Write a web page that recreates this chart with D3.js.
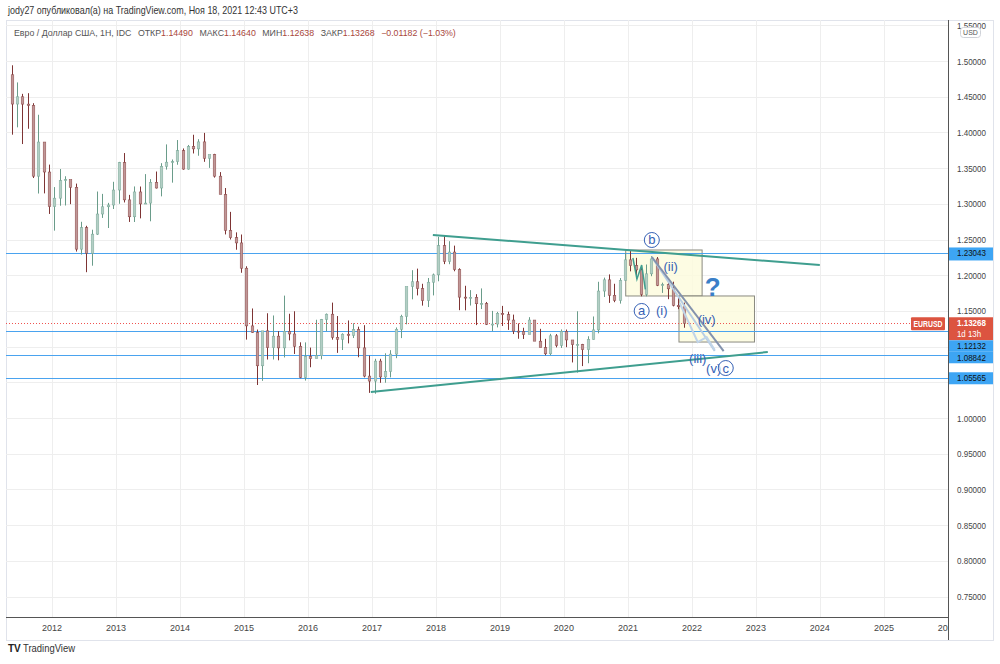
<!DOCTYPE html>
<html><head><meta charset="utf-8">
<script src="https://cdn.jsdelivr.net/npm/d3@7"></script>
<style>body{margin:0;background:#fff}svg{display:block}text{font-family:"Liberation Sans",Arial,sans-serif}</style>
</head><body><svg id="c" width="1000" height="664"></svg>
<script>
// ---- data (monthly candles, EUR/USD, from May 2011) ----
const firstMonth = [2011, 4];
const firstOpen = 1.4807;
const highs = [
 1.4940,1.4700,1.4540,1.4549,1.4409,1.4247,1.3817,1.3549,
 1.3234,1.3487,1.3386,1.3283,1.3283,1.2748,1.2692,1.2637,1.3172,1.3139,1.3013,1.3308,
 1.3587,1.3711,1.3125,1.3243,1.3242,1.3416,1.3346,1.3452,1.3569,1.3832,1.3621,1.3893,
 1.3775,1.3824,1.3967,1.3905,1.3993,1.3677,1.3700,1.3444,1.3221,1.2887,1.2600,1.2570,
 1.2125,1.1534,1.1239,1.1214,1.1467,1.1436,1.1216,1.1714,1.1460,1.1495,1.1060,1.1059,
 1.0986,1.1376,1.1387,1.1464,1.1616,1.1428,1.1186,1.1366,1.1327,1.1279,1.1300,1.0874,
 1.0829,1.0829,1.0906,1.0950,1.1268,1.1446,1.1777,1.2070,1.2092,1.1880,1.1961,1.2023,
 1.2537,1.2556,1.2476,1.2414,1.2097,1.1852,1.1791,1.1734,1.1815,1.1625,1.1500,1.1486,
 1.1570,1.1489,1.1448,1.1324,1.1264,1.1412,1.1286,1.1249,1.1109,1.1179,1.1175,1.1240,
 1.1239,1.1054,1.1495,1.1038,1.1145,1.1422,1.1908,1.1966,1.2011,1.1880,1.1960,1.2310,
 1.2349,1.2243,1.2113,1.2150,1.2266,1.2254,1.1895,1.1902,1.1909,1.1692,1.1616];
const lows = [
 1.3968,1.4071,1.3837,1.4051,1.3361,1.3144,1.3146,1.2858,
 1.2624,1.2973,1.2976,1.2995,1.2331,1.2288,1.2042,1.2133,1.2564,1.2802,1.2661,1.2927,
 1.3000,1.3019,1.2746,1.2745,1.2796,1.2997,1.2755,1.3214,1.3104,1.3479,1.3296,1.3547,
 1.3477,1.3478,1.3705,1.3673,1.3588,1.3503,1.3367,1.3150,1.2571,1.2500,1.2357,1.2034,
 1.1098,1.1191,1.0462,1.0520,1.0819,1.0819,1.0808,1.0848,1.1087,1.0897,1.0557,1.0524,
 1.0711,1.0855,1.0822,1.1216,1.1097,1.0912,1.0952,1.1045,1.1120,1.0851,1.0569,1.0352,
 1.0340,1.0493,1.0494,1.0569,1.0838,1.1119,1.1312,1.1662,1.1717,1.1574,1.1554,1.1717,
 1.1915,1.2155,1.2154,1.2055,1.1510,1.1508,1.1575,1.1301,1.1526,1.1302,1.1216,1.1269,
 1.1289,1.1234,1.1176,1.1110,1.1107,1.1181,1.1101,1.1026,1.0879,1.0879,1.0989,1.0981,
 1.0992,1.0778,1.0636,1.0727,1.0767,1.1098,1.1186,1.1695,1.1612,1.1622,1.1602,1.1925,
 1.2054,1.1952,1.1704,1.1704,1.1986,1.1847,1.1752,1.1664,1.1563,1.1524,1.1264];
const closes = [
 1.4397,1.4499,1.4396,1.4378,1.3387,1.3865,1.3445,1.2961,
 1.3079,1.3326,1.3339,1.3231,1.2365,1.2665,1.2307,1.2575,1.2857,1.2958,1.2983,1.3193,
 1.3578,1.3055,1.2818,1.3166,1.2998,1.3010,1.3301,1.3221,1.3525,1.3583,1.3591,1.3743,
 1.3486,1.3804,1.3769,1.3867,1.3638,1.3692,1.3387,1.3131,1.2628,1.2525,1.2452,1.2098,
 1.1290,1.1197,1.0731,1.1221,1.0985,1.1146,1.0982,1.1213,1.1177,1.1005,1.0567,1.0862,
 1.0831,1.0872,1.1380,1.1454,1.1130,1.1103,1.1174,1.1157,1.1240,1.0982,1.0587,1.0517,
 1.0797,1.0575,1.0652,1.0895,1.1243,1.1424,1.1842,1.1908,1.1813,1.1644,1.1902,1.2005,
 1.2414,1.2194,1.2324,1.2079,1.1693,1.1684,1.1690,1.1600,1.1604,1.1312,1.1316,1.1467,
 1.1448,1.1372,1.1217,1.1214,1.1168,1.1372,1.1076,1.0986,1.0899,1.1151,1.1016,1.1213,
 1.1093,1.1027,1.1031,1.0956,1.1101,1.1234,1.1778,1.1935,1.1719,1.1646,1.1928,1.2215,
 1.2136,1.2074,1.1730,1.2019,1.2228,1.1858,1.1868,1.1809,1.1579,1.1558,1.13268];

const priceTicks = [0.75,0.80,0.85,0.90,0.95,1.00,1.05,1.10,1.15,1.20,1.25,1.30,1.35,1.40,1.45,1.50,1.55];
const yearTicks = [2012,2013,2014,2015,2016,2017,2018,2019,2020,2021,2022,2023,2024,2025,2026];
const levelLines = [1.23043, 1.12132, 1.08842, 1.05565];
const lastPrice = 1.13268;
const lastCountdown = "1d 13h";
const symbol = "EURUSD";

const trendLines = [
  [["2017-12-14",1.2563],["2024-01-01",1.2143]],
  [["2016-12-25",1.0364],["2023-03-10",1.0924]]
];
const boxes = [
  [["2020-12-19",1.2353],["2022-02-28",1.1709]],
  [["2021-10-19",1.1709],["2022-12-24",1.1064]]
];
const fanDark = [["2021-05-17",1.2255],["2022-07-01",1.0938]];
const fanLight = [["2021-05-17",1.2255],["2022-05-11",1.0938]];
const zigLight = [["2021-10-23",1.1611],["2022-02-03",1.1064],["2022-03-26",1.1134],["2022-05-11",1.0952]];
const zigTeal = [["2021-01-29",1.2241],["2021-02-21",1.1947],["2021-03-20",1.2143],["2021-04-10",1.1800]];
const waveLabels = [
  {t:"b", d:"2021-05-17", p:1.2493, circle:true},
  {t:"a", d:"2021-03-20", p:1.1499, circle:true},
  {t:"(i)", d:"2021-07-13", p:1.1499},
  {t:"(ii)", d:"2021-09-02", p:1.2115},
  {t:"(iv)", d:"2022-03-26", p:1.1373},
  {t:"(iii)", d:"2022-02-03", p:1.0840},
  {t:"(v)", d:"2022-05-05", p:1.0700},
  {t:"c", d:"2022-07-13", p:1.0700, circle:true}
];
const questionMark = {t:"?", d:"2022-04-30", p:1.1835};
const legendName = "Евро / Доллар США, 1H, IDC";
const legendFields = [["ОТКР","1.14490"],["МАКС","1.14640"],["МИН","1.12638"],["ЗАКР","1.13268"],["","−0.01182 (−1.03%)"]];

// ---- scales ----
const svg = d3.select("#c");
const L = 6, R = 948, T = 20, B = 617;
const x = d3.scaleTime().domain([new Date(2012,0,1), new Date(2021,0,1)]).range([52,628]);
const y = d3.scaleLinear().domain([1.0,1.5]).range([418,61]);
const pd = d3.timeParse("%Y-%m-%d");
const X = d => x(pd(d)), P = ([d,p]) => [X(d), y(p)];

svg.append("rect").attr("width",1000).attr("height",664).attr("fill","#fff");
const defs = svg.append("defs");
defs.append("clipPath").attr("id","plot").append("rect")
  .attr("x",L).attr("y",T).attr("width",R-L).attr("height",B-T);
defs.append("clipPath").attr("id","taxis").append("rect")
  .attr("x",L).attr("y",B).attr("width",R-L).attr("height",24);
defs.append("clipPath").attr("id","paxis").append("rect")
  .attr("x",R).attr("y",T+1).attr("width",46).attr("height",B-T);

// frame
svg.append("rect").attr("x",L+0.5).attr("y",T+0.5).attr("width",993-L).attr("height",640-T)
  .attr("fill","none").attr("stroke","#e0e3eb");

const plot = svg.append("g").attr("clip-path","url(#plot)");
// grid
plot.selectAll(".hg").data(priceTicks).join("line")
  .attr("x1",L).attr("x2",R).attr("y1",d=>Math.round(y(d))+0.5).attr("y2",d=>Math.round(y(d))+0.5)
  .attr("stroke","#eeeeee");
plot.selectAll(".vg").data(yearTicks).join("line")
  .attr("y1",T).attr("y2",B).attr("x1",d=>Math.round(x(new Date(d,0,1)))+0.5).attr("x2",d=>Math.round(x(new Date(d,0,1)))+0.5)
  .attr("stroke","#eeeeee");

// boxes
boxes.forEach(b=>{
  const [x1,y1] = P(b[0]), [x2,y2] = P(b[1]);
  plot.append("rect").attr("x",x1).attr("y",y1).attr("width",x2-x1).attr("height",y2-y1)
    .attr("fill","#fdfbdc").attr("fill-opacity",0.8).attr("stroke","#8a8a80").attr("stroke-width",1);
});

// level lines
plot.selectAll(".lv").data(levelLines).join("line")
  .attr("x1",L).attr("x2",R).attr("y1",d=>Math.round(y(d))+0.5).attr("y2",d=>Math.round(y(d))+0.5)
  .attr("stroke","#4aa3ef").attr("stroke-width",1);

// current price dotted line
plot.append("line").attr("x1",L).attr("x2",911).attr("y1",Math.round(y(lastPrice))+0.5).attr("y2",Math.round(y(lastPrice))+0.5)
  .attr("stroke","#ef5350").attr("stroke-dasharray","1,2");

// candles
const candles = highs.map((h,i)=>({
  date: new Date(firstMonth[0], firstMonth[1]+i, 15),
  o: i===0 ? firstOpen : closes[i-1], h, l: lows[i], c: closes[i]
}));
const cg = plot.append("g");
candles.forEach(k=>{
  const cx = Math.round(x(k.date))+0.5;
  const up = k.c >= k.o;
  cg.append("line").attr("x1",cx).attr("x2",cx).attr("y1",y(k.h)).attr("y2",y(k.l))
    .attr("stroke", up ? "#6a9c8a" : "#7e3434").attr("stroke-width",1);
  const top = y(Math.max(k.o,k.c)), bot = y(Math.min(k.o,k.c));
  cg.append("rect").attr("x",cx-1.3).attr("width",2.6).attr("y",top).attr("height",Math.max(1,bot-top))
    .attr("fill", up ? "#b3cec5" : "#c09797").attr("stroke", up ? "#7aa898" : "#8a4545").attr("stroke-width",0.5);
});

const line = d3.line();
// trend lines
trendLines.forEach(t=>{
  plot.append("path").attr("d",line(t.map(P))).attr("stroke","#3f9e8f").attr("stroke-width",2).attr("fill","none");
});
plot.append("path").attr("d",line(zigTeal.map(P))).attr("stroke","#3f9e8f").attr("stroke-width",1.5).attr("fill","none");
plot.append("path").attr("d",line(fanLight.map(P))).attr("stroke","#b7cde4").attr("stroke-width",2).attr("fill","none");
plot.append("path").attr("d",line(zigLight.map(P))).attr("stroke","#c0d4e8").attr("stroke-width",2).attr("fill","none");
plot.append("path").attr("d",line(fanDark.map(P))).attr("stroke","#8392ad").attr("stroke-width",2).attr("fill","none");

// wave labels
const lblColor = "#3561b5";
waveLabels.forEach(w=>{
  const cx = X(w.d), cy = y(w.p);
  if (w.circle) plot.append("circle").attr("cx",cx).attr("cy",cy).attr("r",7.5)
    .attr("fill","#fff").attr("fill-opacity",0.6).attr("stroke",lblColor).attr("stroke-width",1);
  plot.append("text").attr("x",cx).attr("y",cy+4.5).attr("text-anchor","middle")
    .attr("font-size",13).attr("fill",lblColor).text(w.t);
});
plot.append("text").attr("x",X(questionMark.d)).attr("y",y(questionMark.p)+9).attr("text-anchor","middle")
  .attr("font-size",26).attr("font-weight","bold").attr("fill","#3a7fc8").text(questionMark.t);

// price labels (resolve overlaps)
const labs = [
  {p:1.23043, h:13, fill:"#3da5f4", txt:["1.23043"], col:"#111"},
  {p:lastPrice, h:23, fill:"#dc5440", txt:[d3.format(".5f")(lastPrice), lastCountdown], col:"#fff"},
  {p:1.12132, h:11.5, fill:"#3da5f4", txt:["1.12132"], col:"#111"},
  {p:1.08842, h:11.5, fill:"#3da5f4", txt:["1.08842"], col:"#111"},
  {p:1.05565, h:12, fill:"#3da5f4", txt:["1.05565"], col:"#111"}
];
let prevBottom = -1e9;
labs.forEach(l=>{
  let top = y(l.p) - 6;
  if (top < prevBottom) top = prevBottom;
  prevBottom = top + l.h;
  l.top = top;
});
const hidden = d => labs.some(l => y(d)+5 > l.top && y(d)-5 < l.top + l.h);

// price axis
svg.append("line").attr("x1",R+0.5).attr("x2",R+0.5).attr("y1",T).attr("y2",640).attr("stroke","#555").attr("stroke-width",1);
svg.append("g").attr("clip-path","url(#paxis)").selectAll("text").data(priceTicks.filter(d=>!hidden(d))).join("text")
  .attr("x",957).attr("y",d=>y(d)+3.5).attr("font-size",9.5).attr("fill","#444")
  .attr("textLength",29).attr("lengthAdjust","spacingAndGlyphs")
  .text(d=>d3.format(".5f")(d));
// USD box
svg.append("rect").attr("x",960.5).attr("y",27.5).attr("width",20).attr("height",10).attr("rx",3)
  .attr("fill","#fff").attr("stroke","#cfd2d8");
svg.append("text").attr("x",970.5).attr("y",35).attr("text-anchor","middle").attr("font-size",7).attr("fill","#555").text("USD");

labs.forEach(l=>{
  svg.append("rect").attr("x",R+1).attr("y",l.top).attr("width",44).attr("height",l.h).attr("fill",l.fill);
  l.txt.forEach((t,j)=>{
    svg.append("text").attr("x",957).attr("y",l.top+9+j*11).attr("font-size",9.5)
      .attr("font-weight", j===0 && l.col==="#fff" ? "bold":"normal")
      .attr("fill",l.col).attr("textLength",j===1?24:29).attr("lengthAdjust","spacingAndGlyphs").text(t);
  });
});
// symbol label
const sy = y(lastPrice)-6;
svg.append("rect").attr("x",911).attr("y",sy).attr("width",34).attr("height",13).attr("rx",1).attr("fill","#dc5440");
svg.append("text").attr("x",928).attr("y",sy+9.5).attr("text-anchor","middle").attr("font-size",8.5).attr("font-weight","bold")
  .attr("fill","#fff").attr("textLength",29).attr("lengthAdjust","spacingAndGlyphs").text(symbol);

// time axis
svg.append("line").attr("x1",L).attr("x2",R).attr("y1",B+0.5).attr("y2",B+0.5).attr("stroke","#555");
svg.append("g").attr("clip-path","url(#taxis)").selectAll("text").data(yearTicks).join("text")
  .attr("x",d=>x(new Date(d,0,1))).attr("y",631).attr("text-anchor","middle")
  .attr("font-size",9).attr("fill","#444").text(d=>d);

// header
svg.append("text").attr("x",8).attr("y",14).attr("font-size",10.5).attr("fill","#333")
  .attr("textLength",290).attr("lengthAdjust","spacingAndGlyphs")
  .text("jody27 опубликовал(а) на TradingView.com, Ноя 18, 2021 12:43 UTC+3");
// legend: one text element, items flow naturally
const legText = svg.append("text").attr("x",14).attr("y",35.5).attr("font-size",8.8).attr("fill","#555");
legText.append("tspan").text(legendName);
legendFields.forEach(([k,v])=>{
  if (k) legText.append("tspan").attr("dx", 6.5).attr("fill","#555").text(k);
  legText.append("tspan").attr("dx", k ? 0 : 6.5).attr("fill","#a9473c").text(v);
});

// footer logo
svg.append("text").attr("x",8).attr("y",652).attr("font-size",10).attr("font-weight","900").attr("fill","#222").text("TV");
svg.append("text").attr("x",23).attr("y",652).attr("font-size",10).attr("fill","#333")
  .attr("textLength",52).attr("lengthAdjust","spacingAndGlyphs").text("TradingView");
</script></body></html>
